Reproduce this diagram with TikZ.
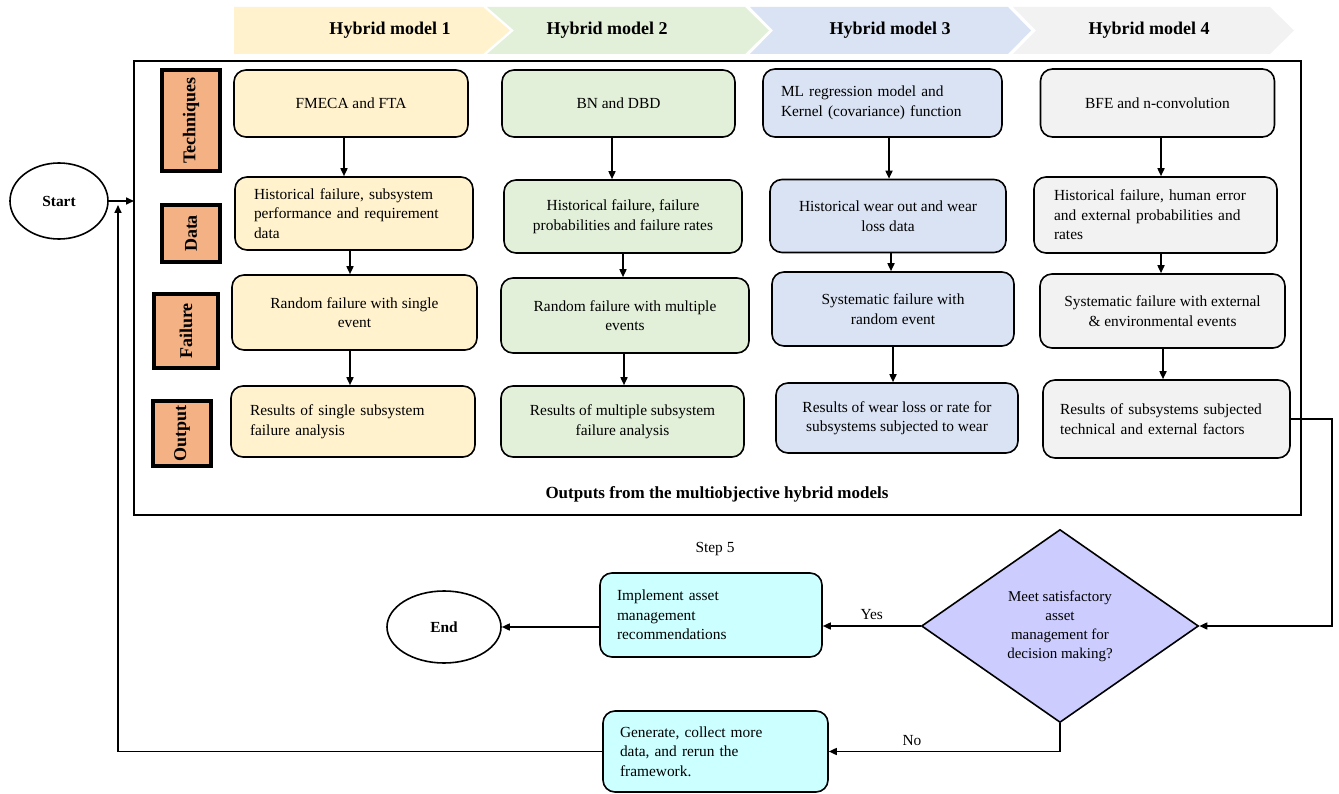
\documentclass[tikz,border=0pt]{standalone}
\usepackage{fontspec}
\setmainfont{Liberation Serif}
\usetikzlibrary{shapes.geometric,arrows.meta}
\definecolor{yel}{HTML}{FFF2CC}
\definecolor{grn}{HTML}{E2F0D9}
\definecolor{blu}{HTML}{DAE3F3}
\definecolor{gry}{HTML}{F2F2F2}
\definecolor{org}{HTML}{F4B183}
\definecolor{cyn}{HTML}{CCFFFF}
\definecolor{lav}{HTML}{CCCCFF}
\newcommand{\bodyf}{\fontsize{15.4}{19.5}\selectfont}
\newcommand{\diaf}{\fontsize{15}{19}\selectfont}
\newcommand{\headf}{\fontsize{18}{22}\selectfont\bfseries}
\begin{document}
\begin{tikzpicture}[x=1pt,y=-1pt,
  box/.style={draw=black, line width=1.6pt, rounded corners=12pt, inner sep=0pt, font=\bodyf, align=center},
  lbox/.style={box, align=left},
  lbl/.style={draw=black, fill=org, line width=3.5pt, inner sep=0pt, rotate=90, font=\headf},
  arr/.style={-{Triangle[length=8pt,width=7pt]}, line width=1.6pt},
  term/.style={ellipse, draw=black, line width=1.6pt, inner sep=0pt, font=\bodyf\bfseries},
  hdr/.style={font=\headf, inner sep=0pt}]
\useasboundingbox (0,0) rectangle (1339,794);

% header chevrons
\fill[yel] (234,7) -- (483,7) -- (510,30.5) -- (483,54) -- (234,54) -- cycle;
\fill[grn] (487,7) -- (745,7) -- (769,30.5) -- (745,54) -- (487,54) -- (514,30.5) -- cycle;
\fill[blu] (750,7) -- (1008,7) -- (1031,30.5) -- (1008,54) -- (750,54) -- (773,30.5) -- cycle;
\fill[gry] (1013,7) -- (1270,7) -- (1294,30.5) -- (1270,54) -- (1013,54) -- (1036,30.5) -- cycle;
\node[hdr] (h1) at (390,30) {Hybrid model 1};
\node[hdr] (h2) at (607,30) {Hybrid model 2};
\node[hdr] (h3) at (890,30) {Hybrid model 3};
\node[hdr] (h4) at (1149,30) {Hybrid model 4};

% frame
\node[draw=black, line width=1.6pt, minimum width=1167, minimum height=454, inner sep=0pt] (frame) at (717.5,288) {};
\node[font=\fontsize{17}{20}\selectfont\bfseries, inner sep=0pt] (outs) at (717,494) {Outputs from the multiobjective hybrid models};

% row labels
\node[lbl, minimum width=101, minimum height=58] (lt) at (191,120.5) {Techniques};
\node[lbl, minimum width=57, minimum height=58] (ld) at (191,233.5) {Data};
\node[lbl, minimum width=74, minimum height=64] (lf) at (186,331) {Failure};
\node[lbl, minimum width=65, minimum height=58] (lo) at (182,433.5) {Output};

% column 1
\node[box, fill=yel, minimum width=234, minimum height=67] (t1) at (351,103.5) {FMECA and FTA};
\node[lbox, fill=yel, minimum width=238, minimum height=73, text width=200pt] (d1) at (354,213.5) {Historical failure, subsystem\\performance and requirement\\data};
\node[box, fill=yel, minimum width=245, minimum height=75] (f1) at (354.5,312.5) {Random failure with single\\event};
\node[lbox, fill=yel, minimum width=244, minimum height=71, text width=206pt] (o1) at (353,421.5) {Results of single subsystem\\failure analysis};

% column 2
\node[box, fill=grn, minimum width=233, minimum height=67] (t2) at (618.5,103.5) {BN and DBD};
\node[box, fill=grn, minimum width=238, minimum height=73] (d2) at (623,216.5) {Historical failure, failure\\probabilities and failure rates};
\node[box, fill=grn, minimum width=248, minimum height=75] (f2) at (625,315.5) {Random failure with multiple\\events};
\node[box, fill=grn, minimum width=243, minimum height=71] (o2) at (622.5,421.5) {Results of multiple subsystem\\failure analysis};

% column 3
\node[lbox, fill=blu, minimum width=239, minimum height=68, text width=203pt] (t3) at (882.5,103) {ML regression model and\\Kernel (covariance) function};
\node[box, fill=blu, minimum width=236, minimum height=73] (d3) at (888,216) {Historical wear out and wear\\loss data};
\node[box, fill=blu, minimum width=242, minimum height=74] (f3) at (893,309) {Systematic failure with\\random event};
\node[box, fill=blu, minimum width=242, minimum height=70] (o3) at (897,418) {Results of wear loss or rate for\\subsystems subjected to wear};

% column 4
\node[box, fill=gry, minimum width=234, minimum height=68] (t4) at (1157.5,103) {BFE and n-convolution};
\node[lbox, fill=gry, minimum width=243, minimum height=76, text width=203pt] (d4) at (1155.5,215) {Historical failure, human error\\and external probabilities and\\rates};
\node[box, fill=gry, minimum width=245, minimum height=74] (f4) at (1162.5,311) {Systematic failure with external\\\& environmental events};
\node[lbox, fill=gry, minimum width=247, minimum height=78, text width=213pt] (o4) at (1166.5,419) {Results of subsystems subjected\\technical and external factors};

% column arrow x positions
\coordinate (a11) at (344,0); \coordinate (a12) at (350,0); \coordinate (a13) at (350,0);
\coordinate (a21) at (612,0); \coordinate (a22) at (623,0); \coordinate (a23) at (624,0);
\coordinate (a31) at (889,0); \coordinate (a32) at (891,0); \coordinate (a33) at (893,0);
\coordinate (a41) at (1161,0); \coordinate (a42) at (1161,0); \coordinate (a43) at (1163,0);
\draw[arr] (t1.south -| a11) -- (d1.north -| a11);
\draw[arr] (d1.south -| a12) -- (f1.north -| a12);
\draw[arr] (f1.south -| a13) -- (o1.north -| a13);
\draw[arr] (t2.south -| a21) -- (d2.north -| a21);
\draw[arr] (d2.south -| a22) -- (f2.north -| a22);
\draw[arr] (f2.south -| a23) -- (o2.north -| a23);
\draw[arr] (t3.south -| a31) -- (d3.north -| a31);
\draw[arr] (d3.south -| a32) -- (f3.north -| a32);
\draw[arr] (f3.south -| a33) -- (o3.north -| a33);
\draw[arr] (t4.south -| a41) -- (d4.north -| a41);
\draw[arr] (d4.south -| a42) -- (f4.north -| a42);
\draw[arr] (f4.south -| a43) -- (o4.north -| a43);

% start / end
\node[term, minimum width=98, minimum height=76] (start) at (59,201) {Start};
\node[term, minimum width=114, minimum height=72] (endn) at (444,627) {End};

% decision part
\node[diamond, draw=black, fill=lav, line width=1.6pt, minimum width=277, minimum height=193, inner sep=0pt, font=\diaf, align=center] (dia) at (1060,626) {Meet satisfactory\\asset\\management for\\decision making?};
\node[lbox, fill=cyn, minimum width=222, minimum height=84, text width=188pt] (impl) at (711,615) {Implement asset\\management\\recommendations};
\node[lbox, fill=cyn, minimum width=225, minimum height=81, text width=191pt] (gen) at (715.5,751.5) {Generate, collect more\\data, and rerun the\\framework.};
\node[font=\bodyf, inner sep=0pt] (step) at (715,549) {Step 5};

\coordinate (inj) at (134,201);
\coordinate (ret) at (118,205);
\draw[arr] (start.east) -- (inj);
\draw[arr] (gen.west) -| (ret);
\draw[arr] (o4.east) -- ++(41,0) |- (dia.east);
\draw[arr] (dia.west) -- (dia.west -| impl.east) node[midway, above=6pt, font=\bodyf, inner sep=0pt] {Yes};
\draw[arr] (impl.west |- endn.east) -- (endn.east);
\draw[arr] (dia.south) |- (gen.east) node[pos=0.82, above=5pt, font=\bodyf, inner sep=0pt] {No};
\end{tikzpicture}
\end{document}
